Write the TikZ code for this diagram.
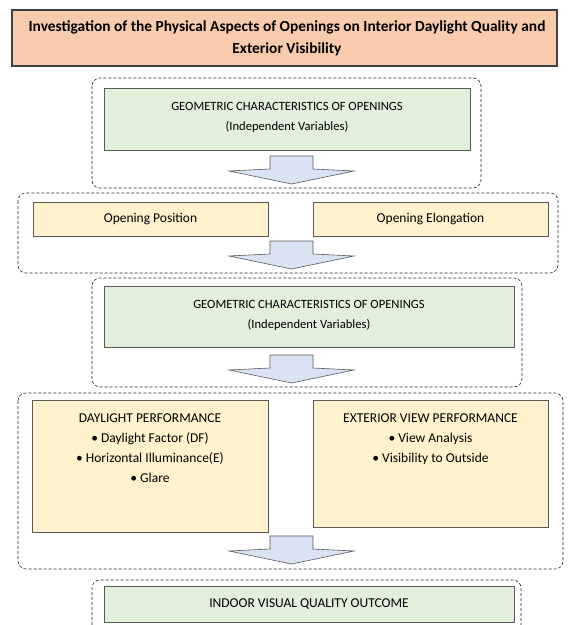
\documentclass[tikz,border=0pt]{standalone}
\usepackage{fontspec}
\setmainfont{Carlito}
\usetikzlibrary{fit}
\definecolor{peach}{HTML}{F8CBAD}
\definecolor{lgreen}{HTML}{E2EFDA}
\definecolor{lyellow}{HTML}{FFF2CC}
\definecolor{lblue}{HTML}{DAE3F3}
\definecolor{edgegray}{HTML}{595959}
\definecolor{titleedge}{HTML}{404040}
\tikzset{
  box/.style={draw=edgegray, line width=0.9pt, inner sep=0pt},
  greenbox/.style={box, fill=lgreen},
  yellowbox/.style={box, fill=lyellow},
  titlebox/.style={draw=titleedge, line width=1.3pt, fill=peach, inner sep=0pt},
  grp/.style={draw=black!85, dash pattern=on 3pt off 2pt, rounded corners=8pt, line width=0.6pt},
  txt/.style={align=center, inner sep=0pt, font=\fontsize{13.5}{20}\selectfont, text=black},
  gtxt/.style={align=center, inner sep=0pt, font=\fontsize{12.6}{20}\selectfont, text=black},
  ttxt/.style={align=center, inner sep=0pt, font=\bfseries\fontsize{15.4}{22}\selectfont, text=black},
  pics/downarrow/.style={code={
    \draw[draw=edgegray, fill=lblue, line width=0.6pt, line join=miter]
      (-21.5,-28) -- (21.5,-28) -- (21.5,-15) -- (62.5,-13) -- (0,0)
      -- (-62.5,-13) -- (-21.5,-15) -- cycle;}}
}
\begin{document}
\begin{tikzpicture}[x=1pt,y=-1pt]
\useasboundingbox (0,0) rectangle (568,625);
% title
\node[titlebox, fit={(12,10)(557,66)}] (title) {};
\node[ttxt] (titletext) at (287,38.5) {Investigation of the Physical Aspects of Openings on Interior Daylight Quality and\\Exterior Visibility};
% group 1
\draw[grp] (92,78) rectangle (481,188);
\node[greenbox, fit={(104,88)(470,150)}] (g1) {};
\node[gtxt] (g1t) at (287,117) {GEOMETRIC CHARACTERISTICS OF OPENINGS\\(Independent Variables)};
\pic at (291.5,184) {downarrow};
% group 2
\draw[grp] (18,193) rectangle (558,273);
\node[yellowbox, fit={(33,202)(268,236)}] (pos) {};
\node[txt] (post) at (pos.center) {Opening Position};
\node[yellowbox, fit={(313,202)(548,236)}] (elo) {};
\node[txt] (elot) at (elo.center) {Opening Elongation};
\pic at (291.5,269) {downarrow};
% group 3
\draw[grp] (92,278) rectangle (522,387);
\node[greenbox, fit={(104,286)(514,347)}] (g2) {};
\node[gtxt] (g2t) at (309,315) {GEOMETRIC CHARACTERISTICS OF OPENINGS\\(Independent Variables)};
\pic at (291.5,383) {downarrow};
% group 4
\draw[grp] (18,393) rectangle (563,569);
\node[yellowbox, fit={(32,400)(268,532)}] (day) {};
\node[txt] (dayt) at (150,448.5) {DAYLIGHT PERFORMANCE\\• Daylight Factor (DF)\\• Horizontal Illuminance(E)\\• Glare};
\node[yellowbox, fit={(313,400)(548,527)}] (ext) {};
\node[txt] (extt) at (430.5,439) {EXTERIOR VIEW PERFORMANCE\\• View Analysis\\• Visibility to Outside};
\pic at (291.5,564) {downarrow};
% group 5
\draw[grp] (92,630) |- (521,580) -- (521,630);
\node[greenbox, fit={(104,586)(514,622)}] (g3) {};
\node[txt] (g3t) at (g3.center) {INDOOR VISUAL QUALITY OUTCOME};
\end{tikzpicture}
\end{document}
